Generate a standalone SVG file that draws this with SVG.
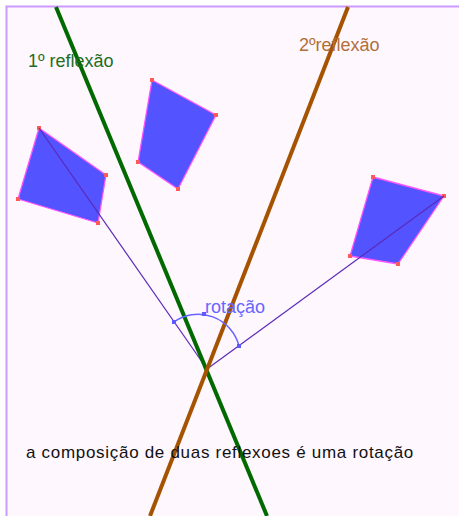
<svg xmlns="http://www.w3.org/2000/svg" width="459" height="516" viewBox="0 0 459 516">
<style>
.quad{fill:#5353ff;stroke:#ff55ff;stroke-width:1.3;stroke-linejoin:round}
.vtx{fill:#ff5a5a}
.ray{stroke:#5a2ab8;stroke-width:1.2;fill:none}
.lbl{font-family:"Liberation Sans",Arial,sans-serif;font-size:18px}
.amark{fill:#5a5aff}
</style>
<rect x="0" y="0" width="459" height="516" fill="#ffffff"/>
<rect x="7" y="7" width="452" height="509" fill="#fff7fe"/>
<path d="M6.5 516 V6.5 H459" fill="none" stroke="#cc99ff" stroke-width="2"/>
<g id="quad-left">
<polygon class="quad" points="39,128 106,175 98,223 18,199"/>
<rect class="vtx" x="37" y="126" width="4" height="4"/><rect class="vtx" x="104" y="173" width="4" height="4"/><rect class="vtx" x="96" y="221" width="4" height="4"/><rect class="vtx" x="16" y="197" width="4" height="4"/>
</g>
<g id="quad-middle">
<polygon class="quad" points="152,80 216,115 178,189 138,162"/>
<rect class="vtx" x="150" y="78" width="4" height="4"/><rect class="vtx" x="214" y="113" width="4" height="4"/><rect class="vtx" x="176" y="187" width="4" height="4"/><rect class="vtx" x="136" y="160" width="4" height="4"/>
</g>
<g id="quad-right">
<polygon class="quad" points="373,177 444,196 398,264 350,256"/>
<rect class="vtx" x="371" y="175" width="4" height="4"/><rect class="vtx" x="442" y="194" width="4" height="4"/><rect class="vtx" x="396" y="262" width="4" height="4"/><rect class="vtx" x="348" y="254" width="4" height="4"/>
</g>
<g id="connectors">
<line class="ray" x1="207" y1="369" x2="39" y2="128"/>
<line class="ray" x1="207" y1="369" x2="444" y2="196"/>
<line x1="56" y1="7" x2="267" y2="516" stroke="#006a00" stroke-width="4"/>
<line x1="348" y1="7" x2="150" y2="516" stroke="#a55300" stroke-width="4"/>
</g>
<g id="angle">
<path d="M174 322 A42 42 0 0 1 239 346" fill="none" stroke="#6666ff" stroke-width="1.5"/>
<rect class="amark" x="172" y="320" width="4" height="4"/>
<rect class="amark" x="202" y="312" width="4" height="4"/>
<rect class="amark" x="237" y="344" width="4" height="4"/>
</g>
<g id="label-r1"><text class="lbl" x="28" y="67" fill="#1e6e1e">1º reflexão</text></g>
<g id="label-r2"><text class="lbl" x="299" y="51" fill="#b0703a">2ºreflexão</text></g>
<g id="label-rot"><text class="lbl" x="205" y="313" fill="#6666ff">rotação</text></g>
<g id="caption"><text x="26" y="458" font-family="Liberation Sans, Arial, sans-serif" font-size="17" letter-spacing="0.7" fill="#111">a composição de duas reflexoes é uma rotação</text></g>
</svg>
